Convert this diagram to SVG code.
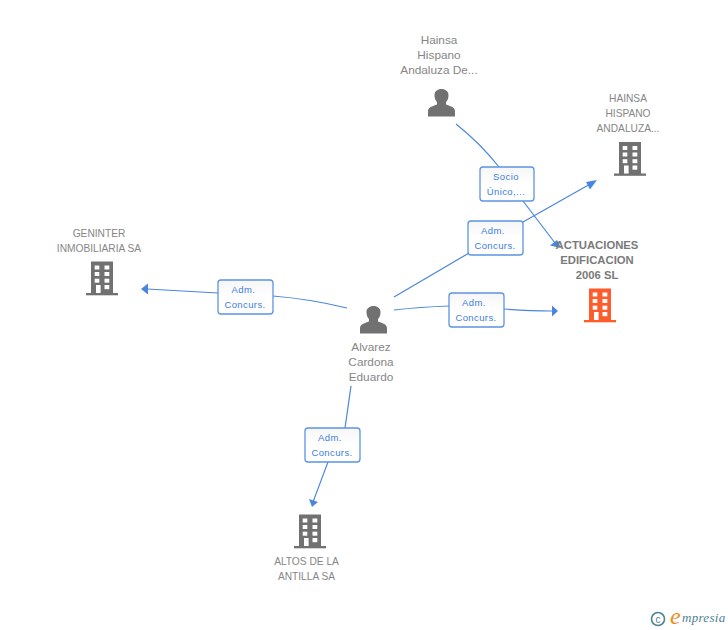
<svg xmlns="http://www.w3.org/2000/svg" width="728" height="630" viewBox="0 0 728 630">
<style>
.n{font-family:"Liberation Sans",Arial,sans-serif;font-size:10.2px;fill:#868686;text-anchor:middle}
.s{font-size:11.8px}
.b{font-weight:bold;font-size:11.3px;fill:#7a7a7a}
.e{fill:none;stroke:#4a86e0;stroke-width:1.2}
.a{fill:#4a86e0}
.l{fill:url(#g);stroke:#5c94e4;stroke-width:1.3}
.t{font-family:"Liberation Sans",Arial,sans-serif;font-size:9.5px;fill:#3b7de0;text-anchor:middle;letter-spacing:.4px}
.g{fill:#717171}
.o{fill:#ff5c2e}
.w{fill:#fff}
</style>
<defs>
<linearGradient id="g" x1="0" y1="0" x2="0" y2="1"><stop offset="0" stop-color="#f6f6f6"/><stop offset=".5" stop-color="#fff"/></linearGradient>
<g id="bld"><rect x="-11" y="-17.500" width="22" height="32"/><rect x="-16" y="14" width="32" height="2.300"/>
<g class="w"><rect x="-7.300" y="-13.500" width="4.600" height="4"/><rect x="2.500" y="-13.500" width="4.800" height="4"/><rect x="-7.300" y="-7" width="4.600" height="4"/><rect x="2.500" y="-7" width="4.800" height="4"/><rect x="-7.300" y="-0.300" width="4.600" height="4"/><rect x="2.500" y="-0.300" width="4.800" height="4"/><rect x="-6" y="6" width="4.600" height="8"/><rect x="2.500" y="6" width="4.800" height="4.200"/></g></g>
<g id="per"><path d="M-13.500 13.500V8C-13.500 4-8 3-4.500 1.500V-1C-6.500-3-7-5.500-7-8-7-11.500-4-14 0-14S7-11.500 7-8C7-5.500 6.500-3 4.500-1V1.500C8 3 13.500 4 13.500 8V13.500Z"/></g>
</defs>
<g id="connectors">
<path class="e" d="M456 124Q480 143 499 167"/>
<path class="e" d="M523 201L555 243"/>
<path class="a" d="M561 248L550 245.500 557 240Z"/>
<path class="e" d="M394 297L469 253"/>
<path class="e" d="M523 222L592 183"/>
<path class="a" d="M597 180L590 189.500 586 182Z"/>
<path class="e" d="M394 310Q420 307 449 306"/>
<path class="e" d="M504 309Q530 311 552 311"/>
<path class="a" d="M558 311L552 305.500V316.500Z"/>
<path class="e" d="M347 308Q310 299 273 296"/>
<path class="e" d="M218 293L147 289"/>
<path class="a" d="M141 289L148 283.500V294.500Z"/>
<path class="e" d="M351 386L345 428"/>
<path class="e" d="M328 462L313 502"/>
<path class="a" d="M312 507L309 499 318 502Z"/>
</g>
<g id="e1"><rect class="l" x="218" y="280" width="55" height="34" rx="3"/><text class="t" x="243.500" y="293">Adm.</text><text class="t" x="245" y="308">Concurs.</text></g>
<g id="e2"><rect class="l" x="468" y="221" width="55" height="34" rx="3"/><text class="t" x="493" y="234">Adm.</text><text class="t" x="495" y="249">Concurs.</text></g>
<g id="e3"><rect class="l" x="449" y="293" width="55" height="34" rx="3"/><text class="t" x="474" y="306">Adm.</text><text class="t" x="476" y="321">Concurs.</text></g>
<g id="e4"><rect class="l" x="305" y="428" width="55" height="34" rx="3"/><text class="t" x="330" y="441">Adm.</text><text class="t" x="332" y="456">Concurs.</text></g>
<g id="e5"><rect class="l" x="480" y="167" width="54" height="34" rx="3"/><text class="t" x="506" y="180">Socio</text><text class="t" x="506" y="195">Único,...</text></g>
<g id="hainsa-person"><text class="n s" x="439" y="44">Hainsa</text><text class="n s" x="439" y="59">Hispano</text><text class="n s" x="439" y="74">Andaluza De...</text><use href="#per" class="g" x="441.500" y="103"/></g>
<g id="hainsa-company"><text class="n" x="628" y="102">HAINSA</text><text class="n" x="628" y="117">HISPANO</text><text class="n" x="628" y="132">ANDALUZA...</text><use href="#bld" class="g" x="630" y="159.500"/></g>
<g id="actuaciones"><text class="n b" x="597" y="249">ACTUACIONES</text><text class="n b" x="597" y="264">EDIFICACION</text><text class="n b" x="597" y="279">2006 SL</text><use href="#bld" class="o" x="600" y="306"/></g>
<g id="geninter"><text class="n" x="99" y="237">GENINTER</text><text class="n" x="99" y="252">INMOBILIARIA SA</text><use href="#bld" class="g" x="102" y="279"/></g>
<g id="alvarez"><use href="#per" class="g" x="373.500" y="320"/><text class="n s" x="371" y="351">Alvarez</text><text class="n s" x="371" y="366">Cardona</text><text class="n s" x="371" y="381">Eduardo</text></g>
<g id="altos"><use href="#bld" class="g" x="310" y="532"/><text class="n" x="306.500" y="565">ALTOS DE LA</text><text class="n" x="306.500" y="580">ANTILLA SA</text></g>
<g id="brand"><circle cx="658" cy="619" r="6.500" fill="none" stroke="#4d8294" stroke-width="1.600"/><text x="658" y="622.500" font-family="Liberation Sans,sans-serif" font-size="10" fill="#4d8294" text-anchor="middle">c</text><text x="670" y="624" font-family="Liberation Serif,serif" font-size="24" font-style="italic" fill="#f08a1d">e</text><text x="682" y="622" font-family="Liberation Serif,serif" font-size="13" font-style="italic" fill="#4d8294" letter-spacing=".3">mpresia</text></g>
</svg>
